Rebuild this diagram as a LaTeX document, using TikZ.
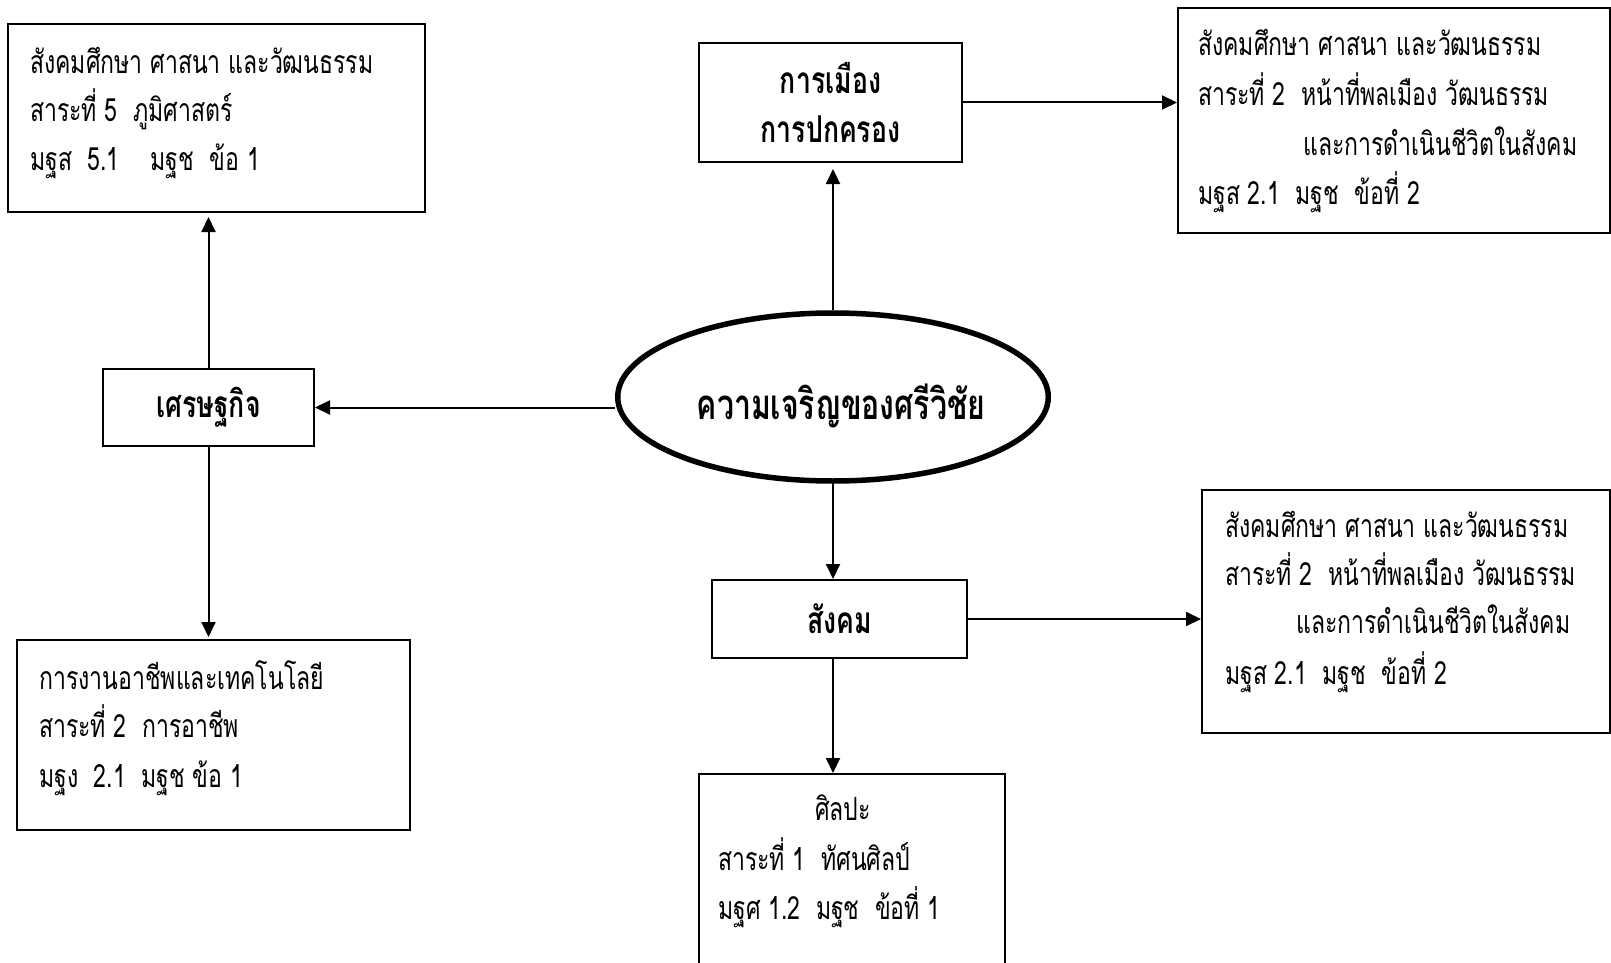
\documentclass[tikz,border=0pt]{standalone}
\usepackage{fontspec}
\usetikzlibrary{arrows.meta,shapes.geometric}
\newfontfamily\thai[Script=Thai,FakeStretch=0.72]{Loma}
\begin{document}
\begin{tikzpicture}[x=1pt,y=-1pt,
  box/.style={draw, line width=2pt, inner sep=0pt},
  arr/.style={line width=2pt, -{Triangle[length=15pt,width=14pt]}},
  body/.style={font=\thai\fontsize{32}{36}\selectfont, anchor=base west, inner sep=0pt},
  ttl/.style={font=\thai\bfseries\fontsize{37}{49}\selectfont, align=center}]
\useasboundingbox (0,0) rectangle (1611,963);

% boxes
\node[box, minimum width=417pt, minimum height=188pt] (tl) at (216.5,118) {};
\node[box, ttl, minimum width=263pt, minimum height=119pt] (pol) at (830.5,102.5) {การเมือง\\การปกครอง};
\node[box, minimum width=432pt, minimum height=225pt] (tr) at (1394,120.5) {};
\node[box, ttl, minimum width=211pt, minimum height=77pt] (eco) at (208.5,407.5) {เศรษฐกิจ};
\node[draw, ellipse, line width=5.5pt, minimum width=416pt, minimum height=168pt, inner sep=0pt,
      font=\thai\bfseries\fontsize{42}{46}\selectfont] (ell) at (833,397)
      {\hspace*{16pt}\raisebox{-22pt}[0pt][0pt]{ความเจริญของศรีวิชัย}};
\node[box, minimum width=393pt, minimum height=190pt] (bl) at (213.5,735) {};
\node[box, ttl, minimum width=255pt, minimum height=78pt] (soc) at (839.5,619) {สังคม};
\node[box, minimum width=408pt, minimum height=243pt] (br) at (1406,611.5) {};
\node[box, minimum width=306pt, minimum height=220pt] (art) at (852,884) {};

% texts
\node[body] (tl1) at (30,74) {สังคมศึกษา ศาสนา และวัฒนธรรม};
\node[body] (tl2) at (30,122) {สาระที่ 5~ ภูมิศาสตร์};
\node[body] (tl3) at (30,171) {มฐส~ 5.1~ ~ มฐช~ ข้อ 1};

\node[body] (tr1) at (1198,56) {สังคมศึกษา ศาสนา และวัฒนธรรม};
\node[body] (tr2) at (1198,106) {สาระที่ 2~ หน้าที่พลเมือง วัฒนธรรม};
\node[body] (tr3) at (1303,155) {และการดำเนินชีวิตในสังคม};
\node[body] (tr4) at (1198,204) {มฐส 2.1~ มฐช~ ข้อที่ 2};

\node[body] (br1) at (1225,537) {สังคมศึกษา ศาสนา และวัฒนธรรม};
\node[body] (br2) at (1225,585) {สาระที่ 2~ หน้าที่พลเมือง วัฒนธรรม};
\node[body] (br3) at (1296,633) {และการดำเนินชีวิตในสังคม};
\node[body] (br4) at (1225,684) {มฐส 2.1~ มฐช~ ข้อที่ 2};

\node[body] (bl1) at (39,689) {การงานอาชีพและเทคโนโลยี};
\node[body] (bl2) at (39,737) {สาระที่ 2~ การอาชีพ};
\node[body] (bl3) at (39,787) {มฐง~ 2.1~ มฐช ข้อ 1};

\node[body] (art1) at (815,820) {ศิลปะ};
\node[body] (art2) at (718,870) {สาระที่ 1~ ทัศนศิลป์};
\node[body] (art3) at (718,919) {มฐศ 1.2~ มฐช~ ข้อที่ 1};

% connectors
\draw[arr, shorten >=6pt] (ell.north) -- (ell.north |- pol.south);
\draw[arr] (pol.east) -- (pol.east -| tr.west);
\draw[arr] (ell.west |- eco.east) -- (eco.east);
\draw[arr, shorten >=4pt] (eco.north) -- (eco.north |- tl.south);
\draw[arr, shorten >=2pt] (eco.south) -- (eco.south |- bl.north);
\draw[arr] (ell.south) -- (ell.south |- soc.north);
\draw[arr] (soc.east) -- (soc.east -| br.west);
\draw[arr] (ell.south |- soc.south) -- (ell.south |- art.north);
\end{tikzpicture}
\end{document}
